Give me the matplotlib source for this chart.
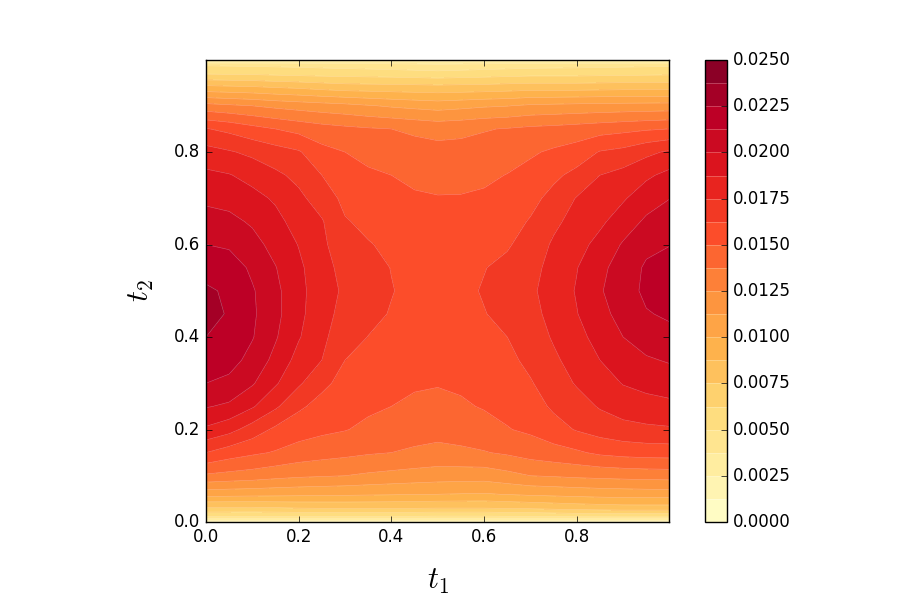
import numpy as np
import matplotlib
matplotlib.use('Agg')
import matplotlib.pyplot as plt

plt.style.use('classic')

# grid nodes
t1_nodes = [0.0, 0.05, 0.1, 0.15, 0.2, 0.25, 0.3, 0.35, 0.4, 0.45, 0.5,
            0.55, 0.6, 0.65, 0.7, 0.75, 0.8, 0.85, 0.9, 0.95, 0.999]
t2_nodes = [0.0, 0.004, 0.012, 0.03, 0.06, 0.1, 0.15, 0.2, 0.25, 0.3, 0.35,
            0.4, 0.45, 0.5, 0.55, 0.6, 0.65, 0.7, 0.75, 0.8, 0.85, 0.9,
            0.94, 0.97, 0.988, 0.996, 0.999]

# field values in units of 1e-3, one row per t2 node, one column per t1 node
z_rows = [
    [0.0] * 21,
    [2.8, 2.8, 2.8, 2.8, 2.8, 2.8, 2.8, 2.8, 2.8, 2.75, 2.7, 2.7, 2.7, 2.75, 2.8, 2.8, 2.8, 2.8, 2.8, 2.8, 2.8],
    [5.1, 5.05, 5.0, 5.0, 5.0, 5.0, 5.0, 5.0, 5.0, 4.95, 4.9, 4.9, 4.9, 4.95, 5.0, 5.1, 5.2, 5.25, 5.3, 5.3, 5.3],
    [7.3, 7.3, 7.3, 7.4, 7.5, 7.55, 7.6, 7.6, 7.6, 7.55, 7.5, 7.5, 7.5, 7.6, 7.7, 7.85, 8.0, 8.1, 8.2, 8.2, 8.2],
    [10.5, 10.45, 10.4, 10.35, 10.3, 10.25, 10.2, 10.15, 10.1, 10.05, 10.0, 9.95, 9.9, 10.05, 10.2, 10.3, 10.4, 10.5, 10.55, 10.6, 10.6],
    [13.55, 13.35, 13.18, 12.91, 12.71, 12.6, 12.5, 12.3, 12.14, 12.0, 11.88, 11.84, 11.81, 12.13, 12.5, 12.61, 12.75, 12.84, 12.93, 13.0, 13.04],
    [16.25, 15.63, 15.22, 14.9, 14.51, 14.27, 14.08, 13.88, 13.75, 13.58, 13.42, 13.54, 13.68, 13.93, 14.28, 14.55, 14.82, 15.24, 15.45, 15.56, 15.58],
    [18.54, 17.92, 16.93, 16.0, 15.55, 15.26, 15.06, 14.73, 14.39, 14.22, 14.15, 14.25, 14.5, 14.94, 15.22, 15.74, 16.35, 16.78, 17.1, 17.26, 17.35],
    [20.09, 19.79, 18.89, 17.71, 16.46, 15.84, 15.46, 15.22, 15.0, 14.76, 14.68, 14.83, 15.1, 15.3, 15.68, 16.46, 16.98, 17.61, 18.05, 18.28, 18.44],
    [21.25, 20.92, 20.13, 18.9, 17.69, 16.54, 15.85, 15.55, 15.4, 15.15, 15.07, 15.2, 15.4, 15.63, 16.15, 16.88, 17.61, 18.18, 18.81, 19.12, 19.32],
    [22.0, 21.75, 20.82, 19.65, 18.31, 17.5, 16.25, 15.87, 15.7, 15.45, 15.35, 15.45, 15.7, 15.95, 16.55, 17.3, 17.96, 18.75, 19.4, 19.85, 20.11],
    [22.5, 22.15, 21.33, 20.12, 18.85, 17.8, 16.7, 16.23, 15.95, 15.7, 15.55, 15.68, 15.95, 16.25, 16.9, 17.62, 18.32, 19.25, 20.0, 20.6, 20.85],
    [23.05, 22.35, 21.45, 20.35, 19.05, 18.0, 17.05, 16.55, 16.18, 15.88, 15.67, 15.85, 16.2, 16.6, 17.15, 17.85, 18.7, 19.65, 20.4, 21.15, 21.45],
    [22.7, 22.3, 21.38, 20.3, 19.1, 18.07, 17.29, 16.8, 16.3, 15.95, 15.7, 15.95, 16.35, 16.8, 17.3, 17.99, 18.85, 19.9, 20.6, 21.55, 21.9],
    [22.0, 21.95, 21.0, 20.05, 19.0, 17.95, 17.1, 16.65, 16.22, 15.88, 15.65, 15.9, 16.2, 16.6, 17.15, 17.85, 18.7, 19.75, 20.45, 21.45, 21.75],
    [21.25, 21.05, 20.43, 19.58, 18.7, 17.75, 16.75, 16.33, 16.0, 15.7, 15.5, 15.72, 15.95, 16.1, 16.85, 17.65, 18.3, 19.15, 20.12, 20.9, 21.2],
    [20.5, 20.32, 19.83, 19.12, 18.24, 17.6, 16.35, 15.95, 15.7, 15.45, 15.3, 15.48, 15.65, 15.75, 16.35, 17.26, 17.9, 18.5, 19.38, 20.2, 20.54],
    [19.75, 19.58, 19.15, 18.58, 17.78, 16.94, 15.93, 15.58, 15.35, 15.15, 15.06, 15.08, 15.2, 15.39, 15.87, 16.65, 17.57, 18.0, 18.61, 19.46, 19.97],
    [19.03, 18.82, 18.33, 17.75, 17.18, 16.25, 15.46, 15.2, 15.0, 14.74, 14.64, 14.62, 14.75, 15.04, 15.39, 15.98, 16.62, 17.5, 17.92, 18.52, 19.1],
    [17.97, 17.62, 17.22, 16.77, 16.38, 15.38, 15.0, 14.64, 14.38, 14.22, 14.14, 14.15, 14.24, 14.44, 14.84, 15.19, 15.55, 16.33, 16.61, 17.2, 17.68],
    [16.32, 15.94, 15.43, 15.0, 14.62, 14.26, 14.04, 13.87, 13.75, 13.54, 13.35, 13.46, 13.67, 13.82, 14.02, 14.13, 14.29, 14.49, 14.67, 14.86, 15.0],
    [12.95, 12.72, 12.5, 12.21, 11.99, 11.8, 11.62, 11.35, 11.1, 10.91, 10.74, 10.91, 11.1, 11.21, 11.46, 11.54, 11.62, 11.67, 11.72, 11.75, 11.79],
    [9.1, 9.0, 8.9, 8.7, 8.55, 8.3, 8.1, 8.05, 8.0, 7.95, 7.9, 7.95, 8.0, 8.1, 8.2, 8.2, 8.2, 8.25, 8.3, 8.3, 8.3],
    [6.1, 6.05, 6.0, 5.9, 5.8, 5.75, 5.7, 5.65, 5.6, 5.5, 5.4, 5.5, 5.6, 5.7, 5.8, 5.8, 5.8, 5.85, 5.9, 5.95, 6.0],
    [4.9, 4.85, 4.8, 4.75, 4.7, 4.6, 4.5, 4.4, 4.3, 4.2, 4.1, 4.2, 4.3, 4.4, 4.5, 4.55, 4.6, 4.65, 4.7, 4.75, 4.8],
    [2.8, 2.8, 2.8, 2.8, 2.8, 2.8, 2.8, 2.8, 2.75, 2.7, 2.6, 2.65, 2.7, 2.75, 2.8, 2.8, 2.8, 2.8, 2.8, 2.8, 2.8],
    [1.4, 1.4, 1.4, 1.4, 1.4, 1.4, 1.4, 1.4, 1.4, 1.4, 1.3, 1.4, 1.4, 1.4, 1.4, 1.4, 1.4, 1.4, 1.4, 1.4, 1.4],
]

levels = np.linspace(0, 0.025, 21)
cbar_ticks = [0.0, 0.0025, 0.005, 0.0075, 0.01, 0.0125, 0.015,
              0.0175, 0.02, 0.0225, 0.025]
axis_ticks = [0.0, 0.2, 0.4, 0.6, 0.8]

Z = np.array(z_rows) * 1e-3

fig = plt.figure(figsize=(9, 6), dpi=100, facecolor='white')
ax = fig.add_axes([0.2289, 0.13, 0.5144, 0.77])
cax = fig.add_axes([0.7833, 0.13, 0.0244, 0.77])

cs = ax.contourf(t1_nodes, t2_nodes, Z, levels=levels, cmap='YlOrRd')
# faint seams between the bands
ax.contour(t1_nodes, t2_nodes, Z, levels=levels[1:-1], colors='white',
           linewidths=0.4, alpha=0.35)

ax.set_xlim(t1_nodes[0], t1_nodes[-1])
ax.set_ylim(t2_nodes[0], t2_nodes[-1])
ax.set_xticks(axis_ticks)
ax.set_yticks(axis_ticks)
ax.set_xlabel('$t_1$', fontsize=22, labelpad=15)
ax.set_ylabel('$t_2$', fontsize=22, labelpad=13)

cb = fig.colorbar(cs, cax=cax, ticks=cbar_ticks, format='%.4f', drawedges=True)
cb.dividers.set_color('white')
cb.dividers.set_alpha(0.35)
cb.dividers.set_linewidth(0.5)

fig.savefig('out.png', dpi=100, facecolor='white')
